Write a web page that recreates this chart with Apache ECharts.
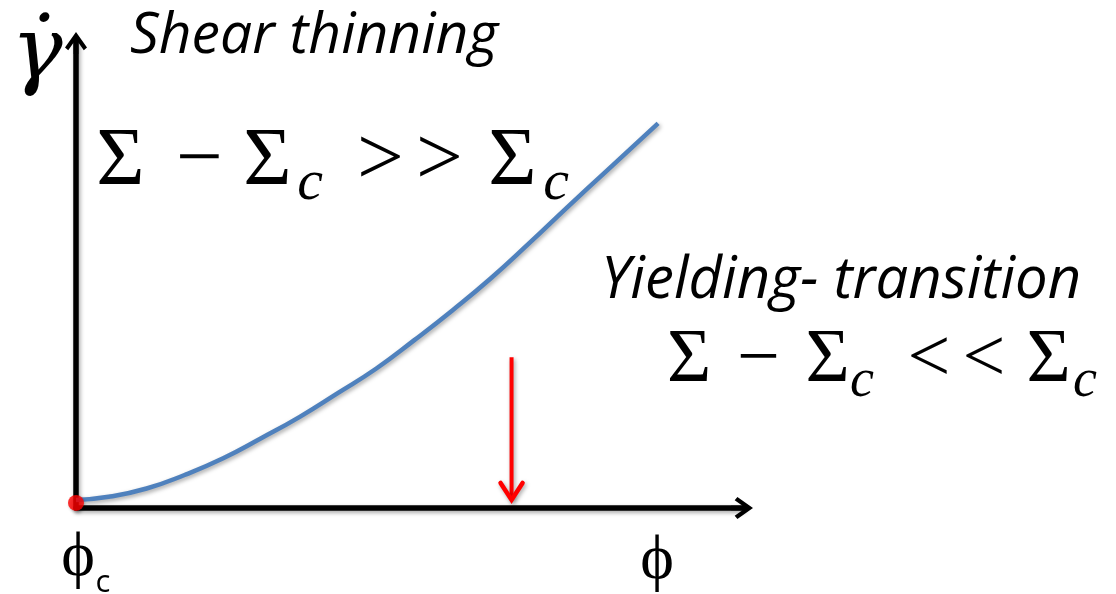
<!DOCTYPE html>
<html>
<head>
<meta charset="utf-8">
<script src="https://cdn.jsdelivr.net/npm/echarts@6/dist/echarts.min.js"></script>
<style>
  html, body { margin: 0; padding: 0; background: #ffffff; }
  #chart { width: 1116px; height: 594px; }
</style>
</head>
<body>
<div id="chart"></div>
<script>
// Flow curve: shear rate vs. packing fraction, measured from phi_c
const curvePhi  = [0, 4.9, 10.6, 16.3, 22.1, 27.8, 33.6, 39.3, 45.1, 50.8, 56.6, 62.3, 68.1, 73.8, 79.6, 87.4];
const curveRate = [1.7, 2.4, 4.2, 7.1, 10.7, 15.0, 19.6, 24.7, 30.0, 36.1, 42.6, 49.4, 57.0, 64.7, 72.4, 82.7];
// critical point (phi_c) on the axis
const criticalPoint = [0, 1.1];
// yielding marker: [phi, top of shaft, tip of head]
const yieldMarker = [[65.4, 32.4, 1.3]];

// chevron arrow head with a short stem, pointing up in its own frame
const arrowHead = 'path://M12,0 L24,17 L20.5,20 L14.5,11.5 L14.5,24 L9.5,24 L9.5,11.5 L3.5,20 L0,17 Z';

const shadow = { shadowColor: 'rgba(0,0,0,0.35)', shadowBlur: 4, shadowOffsetX: 1.5, shadowOffsetY: 2 };

const SERIF = 'Liberation Serif';
const SANS = 'Open Sans';
const DJV = 'DejaVu Serif';
const K_SERIF = 0.30, K_SANS = 0.285, K_DJV = 0.30;

function txt(text, x, baseline, size, family, k, extra) {
  const style = Object.assign({
    text: text,
    fontSize: size,
    fontFamily: family,
    fontStyle: 'normal',
    fill: '#000000',
    align: 'center',
    verticalAlign: 'middle'
  }, extra || {});
  return { type: 'text', x: x, y: baseline - k * size, z: 100, silent: true, style: style };
}
function itxt(text, x, baseline, size, family, k, extra) {
  const el = txt(text, x, baseline, size, family, k, extra);
  el.style.fontStyle = 'italic';
  return el;
}

const axisCommon = {
  type: 'value',
  min: 0,
  max: 100,
  axisLine: {
    show: true,
    onZero: false,
    symbol: ['none', arrowHead],
    symbolSize: [22, 26],
    lineStyle: Object.assign({ color: '#000000', width: 5.5 }, shadow)
  },
  axisTick: { show: false },
  axisLabel: { show: false },
  splitLine: { show: false }
};

const chart = echarts.init(document.getElementById('chart'), null, { renderer: 'canvas' });

chart.setOption({
  animation: false,
  backgroundColor: '#ffffff',
  grid: { left: 76, right: 374, top: 43, bottom: 86, containLabel: false },
  xAxis: axisCommon,
  yAxis: axisCommon,
  series: [
    {
      type: 'line',
      data: curvePhi.map((x, i) => [x, curveRate[i]]),
      smooth: 0.5,
      showSymbol: false,
      silent: true,
      z: 3,
      lineStyle: Object.assign({ color: '#4f81bd', width: 4.5 }, shadow)
    },
    {
      type: 'scatter',
      data: [criticalPoint],
      symbol: 'circle',
      symbolSize: 16,
      silent: true,
      z: 5,
      itemStyle: { color: '#ff0000', shadowColor: 'rgba(0,0,0,0.3)', shadowBlur: 3, shadowOffsetX: 1, shadowOffsetY: 1.5 }
    },
    {
      // red arrow pointing down at the yielding point
      type: 'custom',
      data: yieldMarker,
      silent: true,
      z: 4,
      renderItem: function (params, api) {
        const top = api.coord([api.value(0), api.value(1)]);
        const tip = api.coord([api.value(0), api.value(2)]);
        const style = Object.assign({ stroke: '#ff0000', fill: null, lineWidth: 4 }, shadow);
        return {
          type: 'group',
          children: [
            { type: 'line', shape: { x1: top[0], y1: top[1], x2: tip[0], y2: tip[1] - 3 }, style: style },
            {
              type: 'polyline',
              shape: { points: [[tip[0] - 11, tip[1] - 19], [tip[0], tip[1] - 2], [tip[0] + 11, tip[1] - 19]] },
              style: Object.assign({}, style, { lineWidth: 4.5, lineCap: 'round', lineJoin: 'miter' })
            }
          ]
        };
      }
    }
  ],
  graphic: [
    // axis symbols
    itxt('γ\u0307', 37, 81, 86, DJV, K_DJV),
    txt('ϕ', 78, 577, 64, SERIF, K_SERIF),
    txt('c', 103, 592, 31, SANS, K_SANS),
    txt('ϕ', 657, 580, 64, SERIF, K_SERIF),

    // regime titles
    itxt('Shear thinning', 130, 53, 57, SANS, K_SANS, { align: 'left' }),
    itxt('Yielding- transition', 601, 298, 58, SANS, K_SANS, { align: 'left' }),

    // Σ − Σc >> Σc
    txt('Σ', 120.5, 187, 83, SERIF, K_SERIF),
    txt('−', 199.5, 187, 83, SERIF, K_SERIF),
    txt('Σ', 267.5, 187, 83, SERIF, K_SERIF),
    itxt('c', 310, 201, 58, SERIF, K_SERIF),
    txt('>', 380.5, 187, 83, SERIF, K_SERIF),
    txt('>', 439.5, 187, 83, SERIF, K_SERIF),
    txt('Σ', 512.5, 187, 83, SERIF, K_SERIF),
    itxt('c', 556, 201, 58, SERIF, K_SERIF),

    // Σ − Σc << Σc
    txt('Σ', 689, 384, 76, SERIF, K_SERIF),
    txt('−', 758.5, 384, 76, SERIF, K_SERIF),
    txt('Σ', 827.5, 384, 76, SERIF, K_SERIF),
    itxt('c', 862, 398, 54, SERIF, K_SERIF),
    txt('<', 929, 384, 76, SERIF, K_SERIF),
    txt('<', 984, 384, 76, SERIF, K_SERIF),
    txt('Σ', 1048.5, 384, 76, SERIF, K_SERIF),
    itxt('c', 1085, 398, 54, SERIF, K_SERIF)
  ]
});
</script>
</body>
</html>
